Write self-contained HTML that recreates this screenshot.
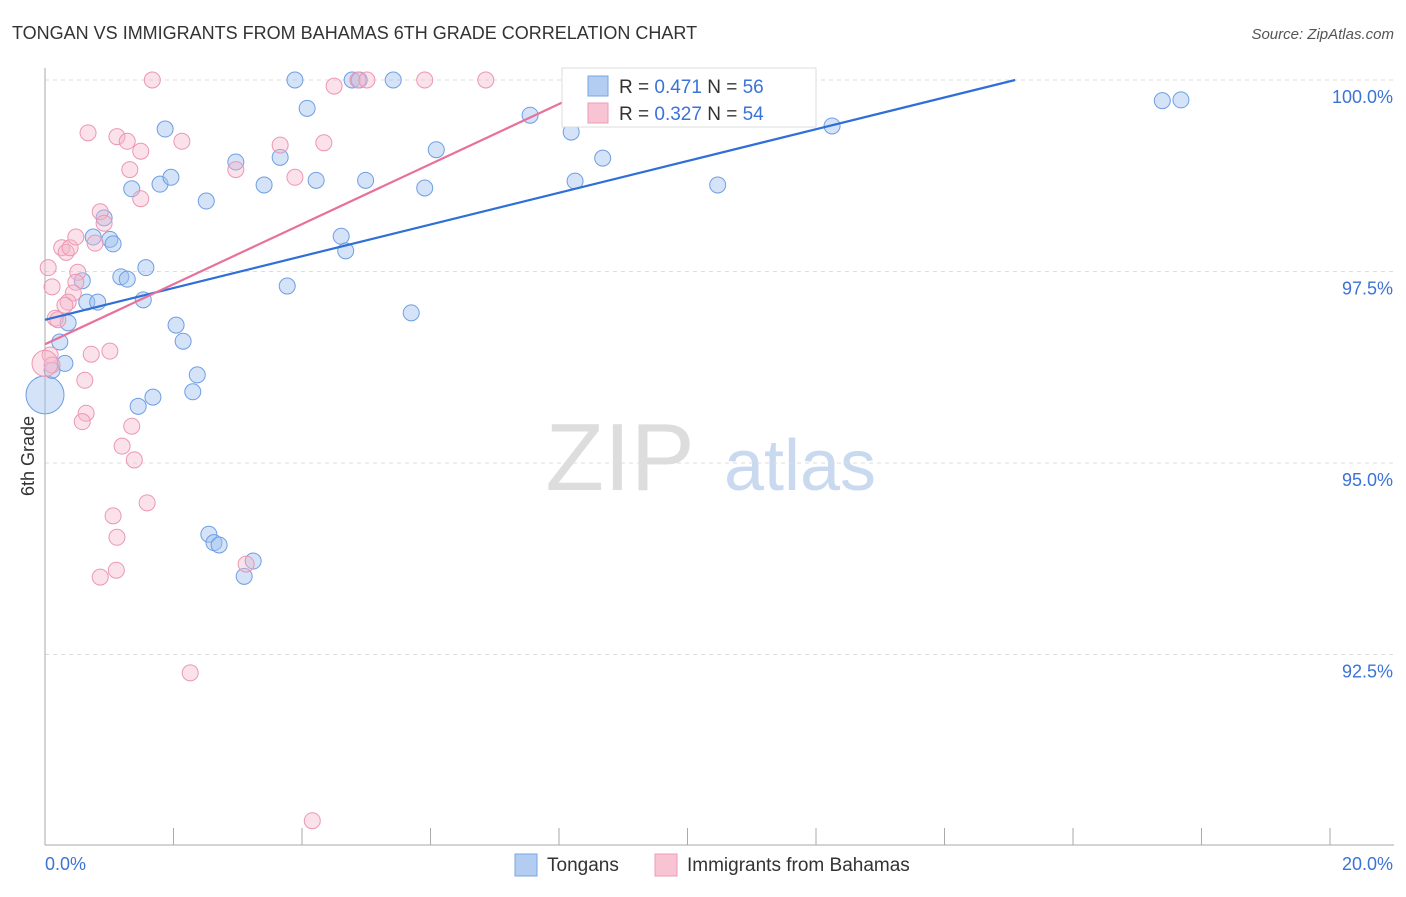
<!DOCTYPE html>
<html><head><meta charset="utf-8"><style>
body{margin:0;background:#fff;font-family:"Liberation Sans",sans-serif;}
svg text{font-family:"Liberation Sans",sans-serif;}
</style></head><body>
<svg id="chart" width="1406" height="892" xmlns="http://www.w3.org/2000/svg">
<text x="12" y="39" font-size="18" fill="#333">TONGAN VS IMMIGRANTS FROM BAHAMAS 6TH GRADE CORRELATION CHART</text>
<text x="1394" y="39" font-size="15" fill="#555" text-anchor="end" font-style="italic">Source: ZipAtlas.com</text>
<text x="620" y="490" font-size="96" fill="#ddd" font-family="Liberation Serif" text-anchor="middle">ZIP</text>
<text x="800" y="490" font-size="72" fill="#c9d9f0" text-anchor="middle">atlas</text>
<g id="grid"></g><g id="axes"></g><g id="pts"></g><g id="lines"></g>
<text x="34" y="456" font-size="18" fill="#333" text-anchor="middle" transform="rotate(-90 34 456)">6th Grade</text>
<g>
<rect x="562" y="68" width="254" height="59" fill="#fff" stroke="#ddd"/>
<rect x="588" y="76" width="20" height="20" fill="#b3cdf2" stroke="#7aa5e6"/>
<rect x="588" y="103" width="20" height="20" fill="#f8c3d2" stroke="#ee9bb4"/>
<text x="619" y="93" font-size="19" fill="#333">R = <tspan fill="#3b73d6">0.471</tspan>   N = <tspan fill="#3b73d6">56</tspan></text>
<text x="619" y="120" font-size="19" fill="#333">R = <tspan fill="#3b73d6">0.327</tspan>   N = <tspan fill="#3b73d6">54</tspan></text>
</g>
<g>
<rect x="515" y="854" width="22" height="22" fill="#b3cdf2" stroke="#7aa5e6"/>
<text x="547" y="871" font-size="19" fill="#333">Tongans</text>
<rect x="655" y="854" width="22" height="22" fill="#f8c3d2" stroke="#ee9bb4"/>
<text x="687" y="871" font-size="19" fill="#333">Immigrants from Bahamas</text>
</g>
</svg>
<script>
const blueX=[0.0,0.11,0.31,0.23,0.36,0.58,0.65,0.82,0.75,0.92,1.01,1.06,1.18,1.28,1.35,1.57,1.53,1.68,1.45,1.79,1.87,1.96,2.04,2.15,2.30,2.37,2.51,2.55,2.63,2.71,2.97,3.10,3.24,3.41,3.66,3.77,3.89,4.08,4.22,4.61,4.68,4.78,4.89,4.99,5.42,5.70,5.91,6.09,7.55,8.19,8.25,8.68,10.47,12.25,17.39,17.68];
const blueY=[95.89,96.21,96.30,96.58,96.83,97.38,97.10,97.10,97.95,98.20,97.92,97.86,97.43,97.40,98.58,97.55,97.13,95.86,95.74,98.64,99.36,98.73,96.80,96.59,95.93,96.15,98.42,94.07,93.96,93.93,98.93,93.52,93.72,98.63,98.99,97.31,100,99.63,98.69,97.96,97.77,100,100,98.69,100,96.96,98.59,99.09,99.54,99.32,98.68,98.98,98.63,99.40,99.73,99.74];
const pinkX=[0.05,0.11,0.16,0.08,0.11,0.20,0.26,0.33,0.39,0.48,0.51,0.48,0.44,0.36,0.31,0.67,0.78,0.86,0.92,1.12,1.28,1.32,1.49,1.49,1.67,2.13,2.97,3.66,3.89,4.34,4.50,4.87,5.01,5.91,6.86,0.72,1.01,0.62,0.64,0.58,1.35,1.20,1.39,1.59,1.06,1.12,1.11,0.86,3.13,2.26,4.16,0.0];
const pinkY=[97.55,97.30,96.89,96.41,96.28,96.87,97.81,97.75,97.81,97.95,97.49,97.36,97.22,97.10,97.06,99.31,97.87,98.28,98.13,99.26,99.20,98.83,99.07,98.45,100,99.20,98.83,99.15,98.73,99.18,99.92,100,100,100,100,96.42,96.46,96.08,95.65,95.54,95.48,95.22,95.04,94.48,94.31,94.03,93.60,93.51,93.68,92.26,90.33,96.3];
const blueLine=[[0,96.87],[15.1,100]];
const pinkLine=[[0,96.55],[8.8,100]];
const yTicks=[100,97.5,95,92.5];
const yTickLabels=["100.0%","97.5%","95.0%","92.5%"];
const xTicks=[0,2,4,6,8,10,12,14,16,18,20];
const NS="http://www.w3.org/2000/svg";
const sx=v=>45+v*64.25, sy=v=>80+(100-v)*76.6;
function mk(tag,attrs,parent){const e=document.createElementNS(NS,tag);for(const k in attrs)e.setAttribute(k,attrs[k]);document.getElementById(parent).appendChild(e);return e;}
yTicks.forEach((t,i)=>{
 const g=mk('line',{x1:45,x2:1394,y1:sy(t),y2:sy(t),stroke:'#ddd','stroke-dasharray':'4,4'},'grid');
 
 
 const l=mk('text',{x:1393,y:sy(t)+23,'font-size':18,fill:'#3b73d6','text-anchor':'end'},'axes');
 l.textContent=yTickLabels[i];
 
 
});
const ya=mk('line',{x1:45,x2:45,y1:68,y2:845,stroke:'#aaa'},'axes');


const xa=mk('line',{x1:45,x2:1394,y1:845,y2:845,stroke:'#aaa'},'axes');


xTicks.forEach(t=>{
 const k=mk('line',{x1:sx(t),x2:sx(t),y1:828,y2:845,stroke:'#aaa'},'axes');
 
 
});
const x0=mk('text',{x:45,y:870,'font-size':18,fill:'#3b73d6'},'axes');x0.textContent='0.0%';


const x1=mk('text',{x:1393,y:870,'font-size':18,fill:'#3b73d6','text-anchor':'end'},'axes');x1.textContent='20.0%';


blueX.forEach((v,i)=>{
 const c=mk('circle',{cx:sx(v),cy:sy(blueY[i]),r:i===0?19:8,fill:'rgba(160,192,238,0.45)',stroke:'#6f9ee3','stroke-width':1},'pts');
 
 
});
pinkX.forEach((v,i)=>{
 const c=mk('circle',{cx:sx(v),cy:sy(pinkY[i]),r:i===pinkX.length-1?13:8,fill:'rgba(246,182,202,0.4)',stroke:'#ec97b2','stroke-width':1},'pts');
 
 
});
const bl=mk('line',{x1:sx(blueLine[0][0]),y1:sy(blueLine[0][1]),x2:sx(blueLine[1][0]),y2:sy(blueLine[1][1]),stroke:'#2f6fd6','stroke-width':2.2},'lines');


const pl=mk('line',{x1:sx(pinkLine[0][0]),y1:sy(pinkLine[0][1]),x2:sx(pinkLine[1][0]),y2:sy(pinkLine[1][1]),stroke:'#e8709a','stroke-width':2.2},'lines');


</script>
</body></html>
